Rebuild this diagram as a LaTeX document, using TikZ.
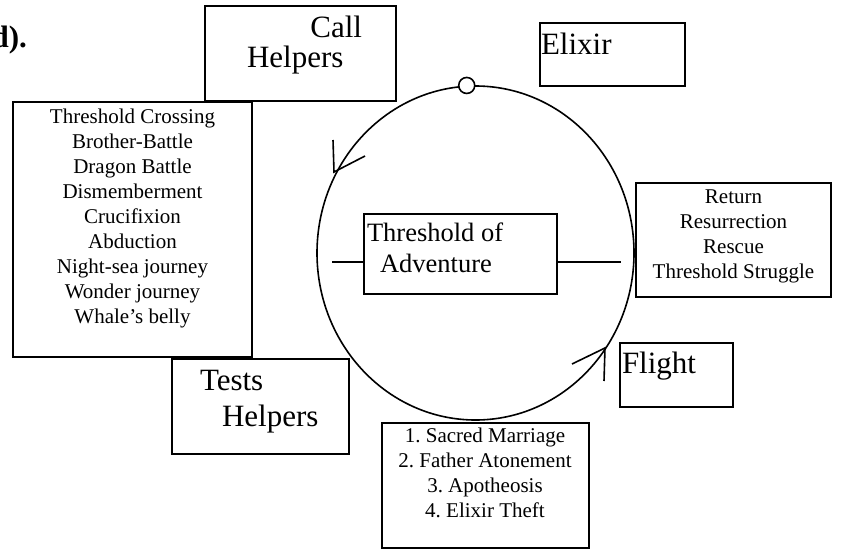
\documentclass[tikz,border=0pt]{standalone}
\usepackage{fontspec}
\setmainfont{Liberation Serif}
\usetikzlibrary{shapes.geometric}
\newcommand\fsmall{\fontsize{21}{25}\selectfont}
\newcommand\fmid{\fontsize{26.5}{30}\selectfont}
\newcommand\fbig{\fontsize{31}{37}\selectfont}
\frenchspacing
\begin{document}
\begin{tikzpicture}[x=1pt,y=-1pt,
  pbox/.style={draw, line width=1.6pt, inner sep=0pt, outer sep=0pt},
  lbl/.style={inner sep=0pt, outer sep=0pt},
  stroke/.style={line width=1.6pt}]
\useasboundingbox (0,0) rectangle (851,551);
% heading fragment
\node[lbl, anchor=base east, font=\fbig\bfseries] (head) at (27,48) {d).};
% boxes
\node[pbox, minimum width=191pt, minimum height=95pt] (call) at (300.5,53.5) {};
\node[pbox, minimum width=239pt, minimum height=255pt] (left) at (132.5,229.5) {};
\node[pbox, minimum width=145pt, minimum height=63pt] (elixir) at (612.5,54.5) {};
\node[pbox, minimum width=195pt, minimum height=114pt] (right) at (733.5,240) {};
\node[pbox, minimum width=113pt, minimum height=64pt] (flight) at (676.5,375) {};
\node[pbox, minimum width=177pt, minimum height=95pt] (tests) at (260.5,406.5) {};
\node[pbox, minimum width=207pt, minimum height=125pt] (bottom) at (485.5,485.5) {};
% cycle
\node[draw, stroke, ellipse, inner sep=0pt, minimum width=317pt, minimum height=334pt] (cyc) at (475.5,253) {};
\node[draw, stroke, circle, fill=white, inner sep=0pt, minimum size=16pt] (top) at (cyc.93) {};
\node[pbox, fill=white, minimum width=193pt, minimum height=80pt] (thr) at (460.5,254) {};
% side lines of threshold box
\coordinate (thrL) at (364,262);
\coordinate (thrLend) at (332,262);
\coordinate (thrR) at (557,262);
\coordinate (thrRend) at (621,262);
\draw[stroke] (thrL) -- (thrLend);
\draw[stroke] (thrR) -- (thrRend);
% arrow marks on the cycle
\coordinate (a1) at (333,140);
\coordinate (a2) at (334,172);
\coordinate (a3) at (365,156);
\draw[stroke] (a1) -- (a2) -- (a3);
\coordinate (b1) at (572,364);
\coordinate (b2) at (605,348);
\coordinate (b3) at (604,381);
\draw[stroke] (b1) -- (b2) -- (b3);
% texts
\node[lbl, anchor=base east, font=\fbig] (callA) at (362,38) {Call};
\node[lbl, anchor=base west, font=\fbig] (callB) at (247,67) {Helpers};
\node[lbl, anchor=base west, font=\fbig] (elixirT) at (541,55) {Elixir};
\node[lbl, anchor=base west, font=\fmid] (thrA) at (367,241) {Threshold of};
\node[lbl, anchor=base west, font=\fmid] (thrB) at (380,272) {Adventure};
\node[lbl, anchor=base west, font=\fbig] (flightT) at (622,373) {Flight};
\node[lbl, anchor=base west, font=\fbig] (testsA) at (200,390) {Tests};
\node[lbl, anchor=base west, font=\fbig] (testsB) at (222,426) {Helpers};
\node[lbl, anchor=north, align=center, font=\fsmall] (leftT) at (132.5,108.7)
  {Threshold Crossing\\Brother-Battle\\Dragon Battle\\Dismemberment\\Crucifixion\\Abduction\\Night-sea journey\\Wonder journey\\Whale’s belly};
\node[lbl, anchor=north, align=center, font=\fsmall] (rightT) at (733.5,190)
  {Return\\Resurrection\\Rescue\\Threshold Struggle};
\node[lbl, anchor=north, align=center, font=\fsmall] (bottomT) at (485,427.7)
  {1. Sacred Marriage\\2. Father Atonement\\3. Apotheosis\\4. Elixir Theft};
\end{tikzpicture}
\end{document}
